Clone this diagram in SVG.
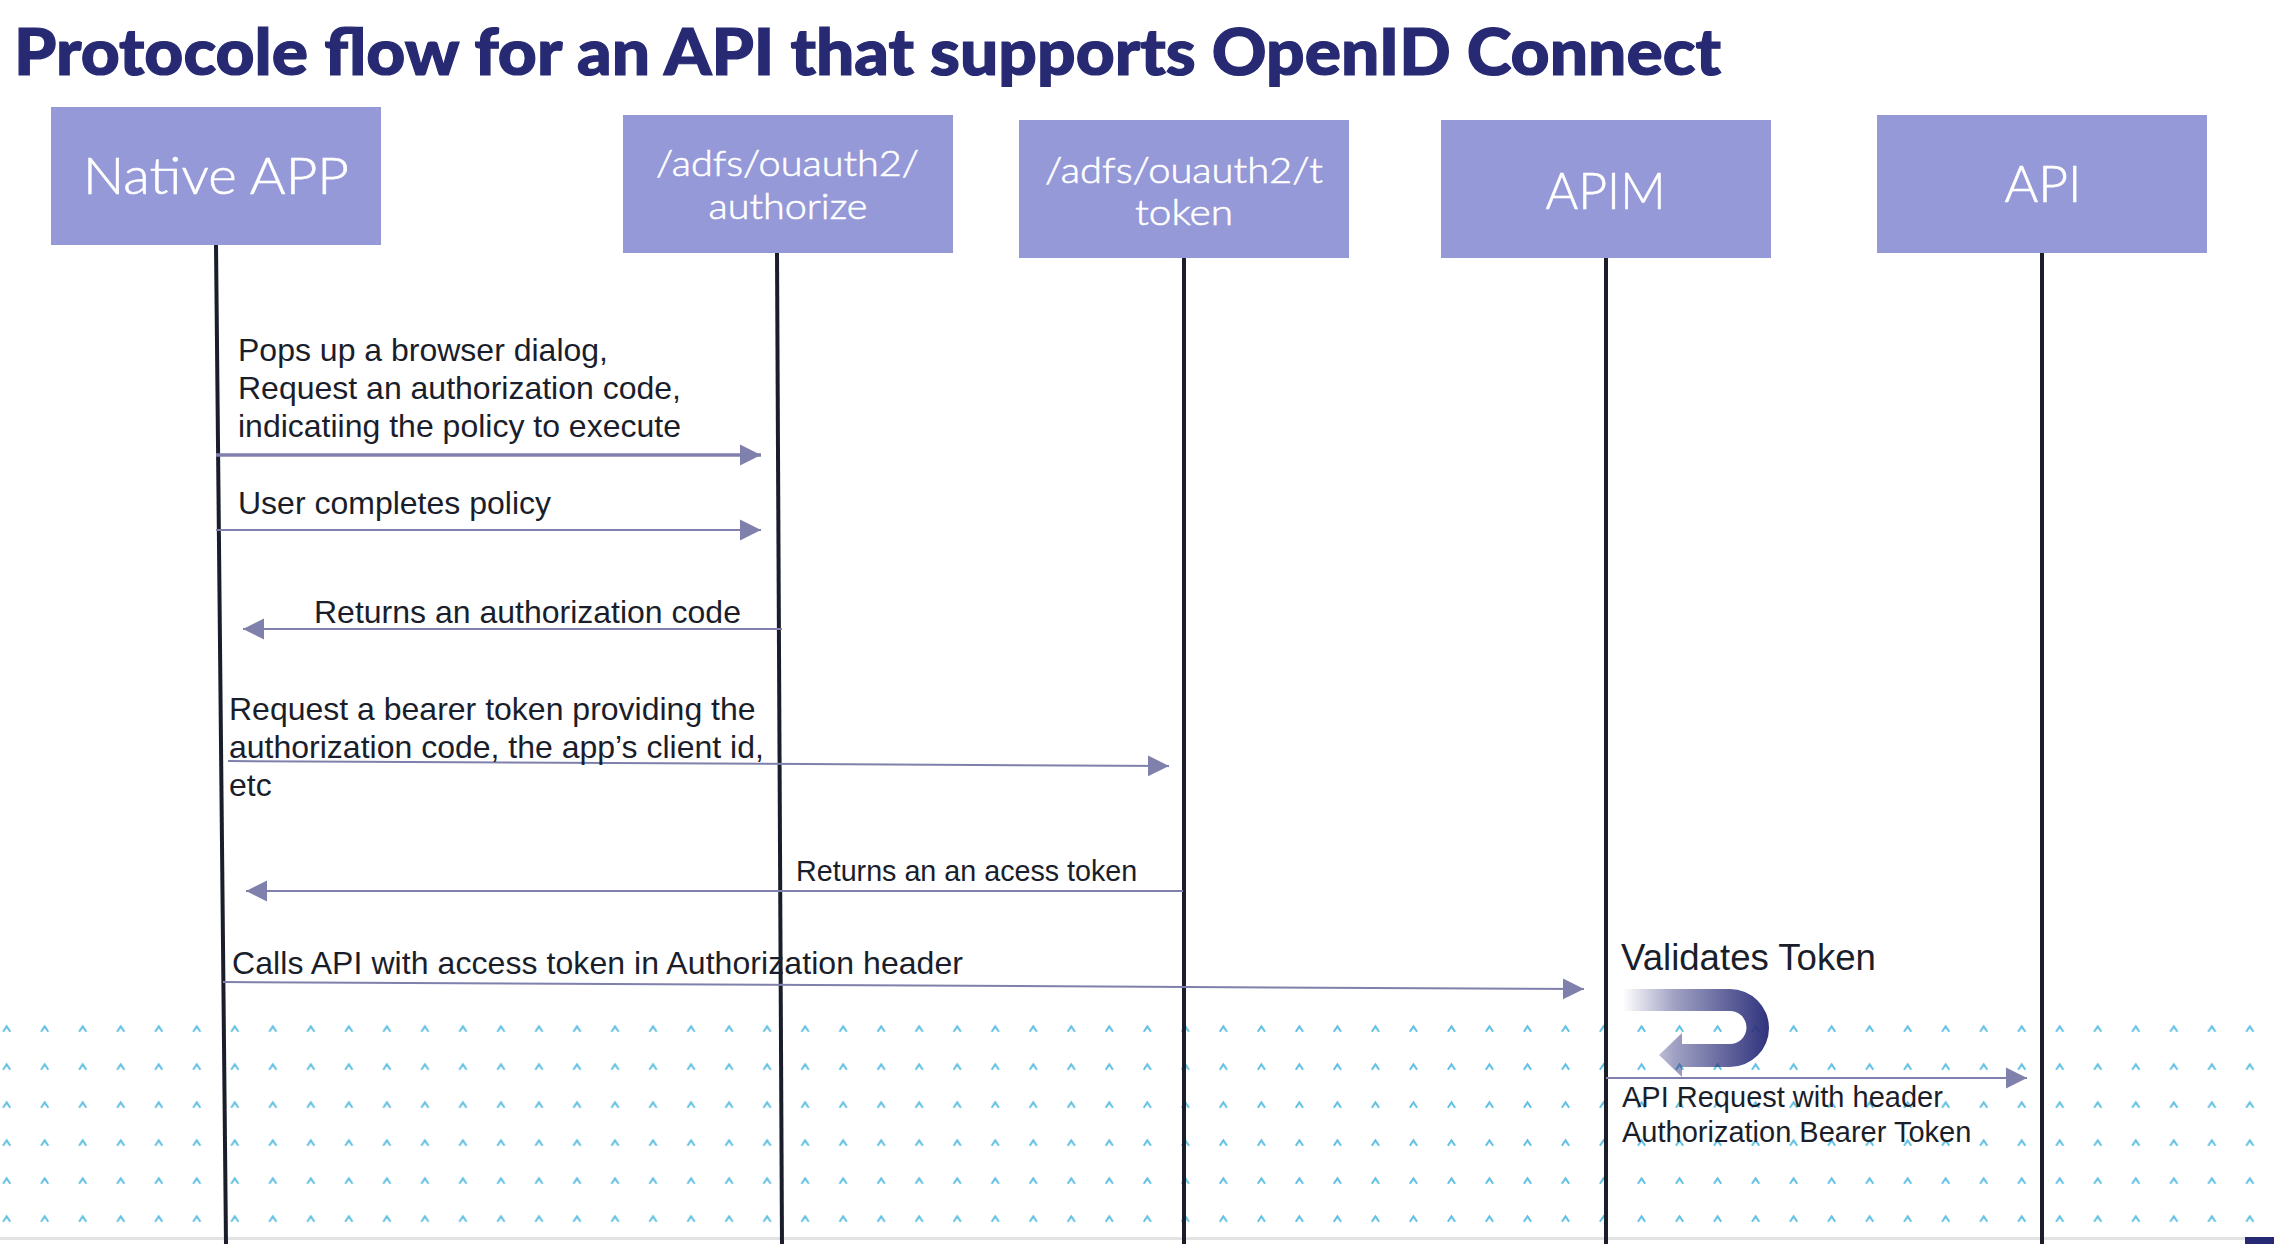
<svg xmlns="http://www.w3.org/2000/svg" width="2274" height="1244" viewBox="0 0 2274 1244">
  <style>
    .box { fill: #9599d8; }
    .head { font-family: "Lato", "Liberation Sans", sans-serif; font-weight: 300; fill: #ffffff; stroke: #ffffff; stroke-width: 0.6; text-anchor: middle; }
    .msg { font-family: "Liberation Sans", Arial, sans-serif; fill: #1a1e2b; font-size: 32px; }
    .small { font-size: 29px; }
    .life { stroke: #1a1e2b; stroke-width: 4; fill: none; }
    .flow { stroke: #7f80ab; fill: none; }
  </style>
  <defs>
    <marker id="tip" markerUnits="userSpaceOnUse" markerWidth="22" markerHeight="22" refX="21" refY="11" orient="auto">
      <path d="M0,0.5 L21,11 L0,21.5 Z" fill="#7f80ab"/>
    </marker>
    <pattern id="carets" patternUnits="userSpaceOnUse" x="-12.3" y="1010" width="38.02" height="38">
      <path d="M15.4,21.8 L19,16.4 L22.6,21.800" fill="none" stroke="#62c0e2" stroke-width="2"/>
    </pattern>
    <linearGradient id="turn" gradientUnits="userSpaceOnUse" x1="1623" y1="0" x2="1769" y2="0">
      <stop offset="0" stop-color="#2c2f7a" stop-opacity="0"/>
      <stop offset="0.35" stop-color="#2c2f7a" stop-opacity="0.45"/>
      <stop offset="1" stop-color="#2c2f7a" stop-opacity="0.98"/>
    </linearGradient>
  </defs>

  <rect width="2274" height="1244" fill="#ffffff"/>

  <!-- caret texture along the foot of the slide -->
  <rect x="0" y="1010" width="2274" height="222" fill="url(#carets)"/>
  <rect x="0" y="1237" width="2274" height="3" fill="#e3e3e3"/>
  <rect x="2245" y="1237" width="29" height="7" fill="#272a73"/>

  <text x="14" y="75" textLength="1707" lengthAdjust="spacingAndGlyphs" font-family="Lato, 'Liberation Sans', sans-serif" font-weight="900" font-size="65" fill="#272a73" stroke="#272a73" stroke-width="1.2">Protocole flow for an API that supports OpenID Connect</text>

  <g id="connectors">
    <path class="life" d="M216,245 L226,1244"/>
    <path class="life" d="M777,253 L782,1244"/>
    <path class="life" d="M1184,258 V1244"/>
    <path class="life" d="M1606,258 V1244"/>
    <path class="life" d="M2042,253 V1244"/>

    <path class="flow" stroke-width="3.5" marker-end="url(#tip)" d="M216,455 H761"/>
    <path class="flow" stroke-width="2" marker-end="url(#tip)" d="M216,530 H761"/>
    <path class="flow" stroke-width="2" marker-end="url(#tip)" d="M782,629 H243"/>
    <path class="flow" stroke-width="2" marker-end="url(#tip)" d="M228,761 L1169,766"/>
    <path class="flow" stroke-width="2" marker-end="url(#tip)" d="M1183,891 H246"/>
    <path class="flow" stroke-width="2" marker-end="url(#tip)" d="M223,982 L1584,989"/>
    <path class="flow" stroke-width="2" marker-end="url(#tip)" d="M1606,1078 H2027"/>

    <!-- token validation loop -->
    <path fill="url(#turn)" d="M1623,989 H1730 A39,39 0 0 1 1730,1067 H1682 V1077 L1659,1055 L1682,1033 V1044 H1730 A16.5,16.5 0 0 0 1730,1011 H1623 Z"/>
  </g>

  <g id="node-native-app">
    <rect class="box" x="51" y="107" width="330" height="138"/>
    <text class="head" x="216" y="194" font-size="51" textLength="266" lengthAdjust="spacingAndGlyphs">Native APP</text>
  </g>
  <g id="node-authorize">
    <rect class="box" x="623" y="115" width="330" height="138"/>
    <text class="head" x="787.500" y="176" font-size="36" textLength="263" lengthAdjust="spacingAndGlyphs">/adfs/ouauth2/</text>
    <text class="head" x="788" y="219" font-size="36" textLength="159" lengthAdjust="spacingAndGlyphs">authorize</text>
  </g>
  <g id="node-token">
    <rect class="box" x="1019" y="120" width="330" height="138"/>
    <text class="head" x="1184" y="183" font-size="36" textLength="278" lengthAdjust="spacingAndGlyphs">/adfs/ouauth2/t</text>
    <text class="head" x="1184" y="225" font-size="36" textLength="98" lengthAdjust="spacingAndGlyphs">token</text>
  </g>
  <g id="node-apim">
    <rect class="box" x="1441" y="120" width="330" height="138"/>
    <text class="head" x="1605.500" y="209" font-size="51" textLength="120" lengthAdjust="spacingAndGlyphs">APIM</text>
  </g>
  <g id="node-api">
    <rect class="box" x="1877" y="115" width="330" height="138"/>
    <text class="head" x="2043" y="202" font-size="51" textLength="77" lengthAdjust="spacingAndGlyphs">API</text>
  </g>

  <g id="messages">
    <text class="msg" x="238" y="361">Pops up a browser dialog,</text>
    <text class="msg" x="238" y="399">Request an authorization code,</text>
    <text class="msg" x="238" y="437">indicatiing the policy to execute</text>
    <text class="msg" x="238" y="514">User completes policy</text>
    <text class="msg" x="314" y="623">Returns an authorization code</text>
    <text class="msg" x="229" y="720">Request a bearer token providing the</text>
    <text class="msg" x="229" y="758">authorization code, the app’s client id,</text>
    <text class="msg" x="229" y="796">etc</text>
    <text class="msg" x="796" y="881" style="font-size:28.700px">Returns an an acess token</text>
    <text class="msg" x="232" y="974" textLength="731">Calls API with access token in Authorization header</text>
    <text class="msg" x="1621" y="970" style="font-size:36.600px">Validates Token</text>
    <text class="msg small" x="1622" y="1107">API Request with header</text>
    <text class="msg small" x="1622" y="1142">Authorization Bearer Token</text>
  </g>
</svg>
